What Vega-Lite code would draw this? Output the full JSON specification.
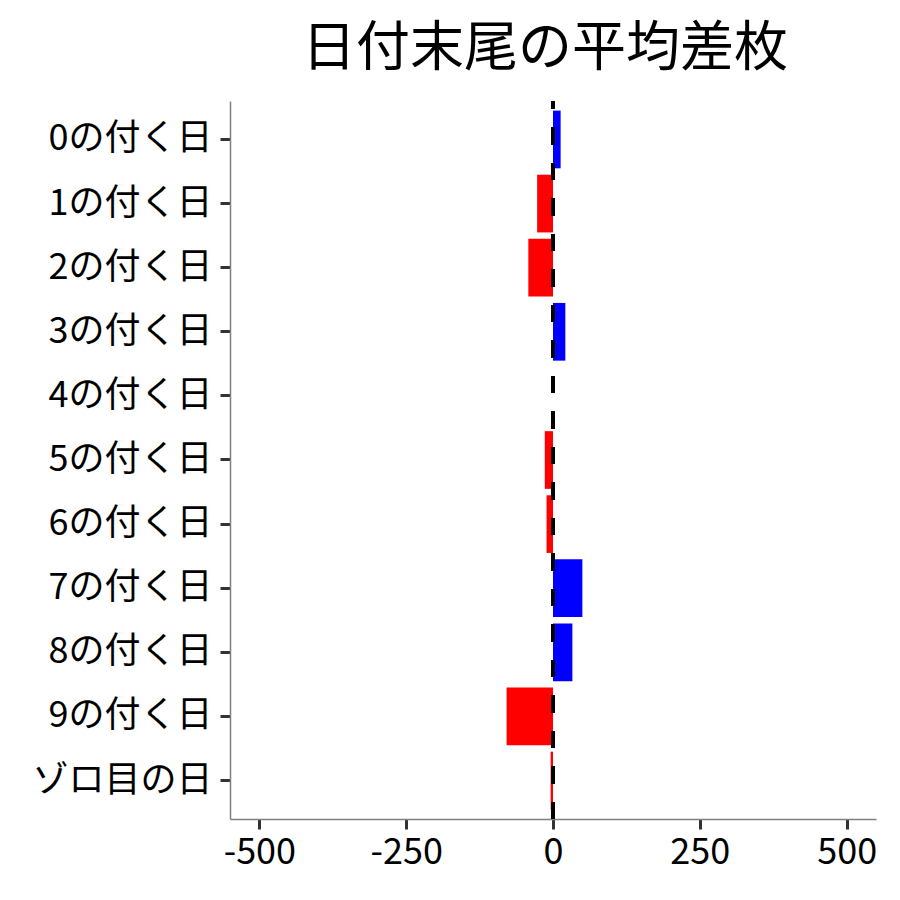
{
  "$schema": "https://vega.github.io/schema/vega-lite/v6.json",
  "width": 646,
  "height": 718,
  "autosize": {"type": "none"},
  "padding": {"left": 230, "top": 101, "right": 24, "bottom": 81},
  "background": "white",
  "view": {"stroke": null},
  "title": {
    "text": "日付末尾の平均差枚",
    "font": "Noto Sans CJK JP",
    "fontSize": 54,
    "fontWeight": "normal",
    "color": "black",
    "anchor": "middle",
    "baseline": "alphabetic",
    "offset": -21,
    "dx": -8
  },
  "data": {
    "values": [
      {"day": "0の付く日", "diff": 13},
      {"day": "1の付く日", "diff": -27},
      {"day": "2の付く日", "diff": -42},
      {"day": "3の付く日", "diff": 21},
      {"day": "4の付く日", "diff": 0},
      {"day": "5の付く日", "diff": -14},
      {"day": "6の付く日", "diff": -11},
      {"day": "7の付く日", "diff": 50},
      {"day": "8の付く日", "diff": 33},
      {"day": "9の付く日", "diff": -79},
      {"day": "ゾロ目の日", "diff": -4}
    ]
  },
  "config": {
    "axis": {
      "labelFont": "Noto Sans CJK JP",
      "labelFontSize": 36,
      "labelColor": "black",
      "labelLimit": 0,
      "domainColor": "#808080",
      "domainWidth": 1.5,
      "tickColor": "#333333",
      "tickWidth": 3,
      "tickSize": 10,
      "grid": false,
      "title": null
    }
  },
  "layer": [
    {
      "mark": {"type": "bar"},
      "encoding": {
        "y": {
          "field": "day",
          "type": "nominal",
          "sort": null,
          "scale": {"paddingInner": 0.1, "paddingOuter": 0.15},
          "axis": {"labelPadding": 8}
        },
        "x": {
          "field": "diff",
          "type": "quantitative",
          "scale": {"domain": [-550, 550], "nice": false, "zero": false},
          "axis": {
            "values": [-500, -250, 0, 250, 500],
            "labelExpr": "toString(datum.value)",
            "labelPadding": 6,
            "labelFlush": false
          }
        },
        "color": {
          "condition": {"test": "datum.diff >= 0", "value": "#0000FF"},
          "value": "#FF0000"
        }
      }
    },
    {
      "mark": {
        "type": "rule",
        "color": "black",
        "strokeWidth": 3.5,
        "strokeDash": [17, 18.5],
        "strokeDashOffset": 9
      },
      "encoding": {
        "x": {"datum": 0, "type": "quantitative"}
      }
    }
  ]
}
